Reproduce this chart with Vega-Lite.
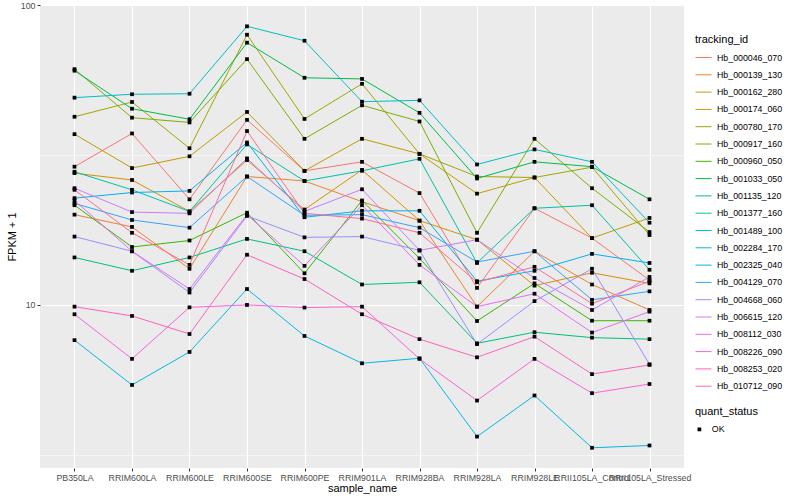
{
  "$schema": "https://vega.github.io/schema/vega-lite/v6.json",
  "width": 644,
  "height": 463,
  "autosize": {"type": "none"},
  "padding": {"left": 40, "top": 5, "right": 116, "bottom": 32},
  "background": "white",
  "config": {
    "view": {"fill": "#EBEBEB", "stroke": null},
    "font": "Liberation Sans",
    "axis": {"domain": false, "labelFont": "Liberation Sans", "titleFont": "Liberation Sans"},
    "legend": {"labelFont": "Liberation Sans", "titleFont": "Liberation Sans"}
  },
  "data": {"values": [
    {"tracking_id":"Hb_000046_070","sample_name":"PB350LA","fpkm":28.9,"quant_status":"OK"},
    {"tracking_id":"Hb_000046_070","sample_name":"RRIM600LA","fpkm":37.3,"quant_status":"OK"},
    {"tracking_id":"Hb_000046_070","sample_name":"RRIM600LE","fpkm":22.5,"quant_status":"OK"},
    {"tracking_id":"Hb_000046_070","sample_name":"RRIM600SE","fpkm":41.4,"quant_status":"OK"},
    {"tracking_id":"Hb_000046_070","sample_name":"RRIM600PE","fpkm":28.0,"quant_status":"OK"},
    {"tracking_id":"Hb_000046_070","sample_name":"RRIM901LA","fpkm":30.0,"quant_status":"OK"},
    {"tracking_id":"Hb_000046_070","sample_name":"RRIM928BA","fpkm":23.6,"quant_status":"OK"},
    {"tracking_id":"Hb_000046_070","sample_name":"RRIM928LA","fpkm":11.4,"quant_status":"OK"},
    {"tracking_id":"Hb_000046_070","sample_name":"RRIM928LE","fpkm":21.0,"quant_status":"OK"},
    {"tracking_id":"Hb_000046_070","sample_name":"RRII105LA_Control","fpkm":16.7,"quant_status":"OK"},
    {"tracking_id":"Hb_000046_070","sample_name":"RRII105LA_Stressed","fpkm":12.1,"quant_status":"OK"},
    {"tracking_id":"Hb_000139_130","sample_name":"PB350LA","fpkm":20.0,"quant_status":"OK"},
    {"tracking_id":"Hb_000139_130","sample_name":"RRIM600LA","fpkm":18.2,"quant_status":"OK"},
    {"tracking_id":"Hb_000139_130","sample_name":"RRIM600LE","fpkm":13.2,"quant_status":"OK"},
    {"tracking_id":"Hb_000139_130","sample_name":"RRIM600SE","fpkm":26.8,"quant_status":"OK"},
    {"tracking_id":"Hb_000139_130","sample_name":"RRIM600PE","fpkm":25.9,"quant_status":"OK"},
    {"tracking_id":"Hb_000139_130","sample_name":"RRIM901LA","fpkm":22.1,"quant_status":"OK"},
    {"tracking_id":"Hb_000139_130","sample_name":"RRIM928BA","fpkm":19.1,"quant_status":"OK"},
    {"tracking_id":"Hb_000139_130","sample_name":"RRIM928LA","fpkm":9.87,"quant_status":"OK"},
    {"tracking_id":"Hb_000139_130","sample_name":"RRIM928LE","fpkm":15.1,"quant_status":"OK"},
    {"tracking_id":"Hb_000139_130","sample_name":"RRII105LA_Control","fpkm":11.7,"quant_status":"OK"},
    {"tracking_id":"Hb_000139_130","sample_name":"RRII105LA_Stressed","fpkm":9.62,"quant_status":"OK"},
    {"tracking_id":"Hb_000162_280","sample_name":"PB350LA","fpkm":27.5,"quant_status":"OK"},
    {"tracking_id":"Hb_000162_280","sample_name":"RRIM600LA","fpkm":26.1,"quant_status":"OK"},
    {"tracking_id":"Hb_000162_280","sample_name":"RRIM600LE","fpkm":20.5,"quant_status":"OK"},
    {"tracking_id":"Hb_000162_280","sample_name":"RRIM600SE","fpkm":30.4,"quant_status":"OK"},
    {"tracking_id":"Hb_000162_280","sample_name":"RRIM600PE","fpkm":20.8,"quant_status":"OK"},
    {"tracking_id":"Hb_000162_280","sample_name":"RRIM901LA","fpkm":28.2,"quant_status":"OK"},
    {"tracking_id":"Hb_000162_280","sample_name":"RRIM928BA","fpkm":19.1,"quant_status":"OK"},
    {"tracking_id":"Hb_000162_280","sample_name":"RRIM928LA","fpkm":16.5,"quant_status":"OK"},
    {"tracking_id":"Hb_000162_280","sample_name":"RRIM928LE","fpkm":11.6,"quant_status":"OK"},
    {"tracking_id":"Hb_000162_280","sample_name":"RRII105LA_Control","fpkm":12.8,"quant_status":"OK"},
    {"tracking_id":"Hb_000162_280","sample_name":"RRII105LA_Stressed","fpkm":11.8,"quant_status":"OK"},
    {"tracking_id":"Hb_000174_060","sample_name":"PB350LA","fpkm":37.1,"quant_status":"OK"},
    {"tracking_id":"Hb_000174_060","sample_name":"RRIM600LA","fpkm":28.6,"quant_status":"OK"},
    {"tracking_id":"Hb_000174_060","sample_name":"RRIM600LE","fpkm":31.3,"quant_status":"OK"},
    {"tracking_id":"Hb_000174_060","sample_name":"RRIM600SE","fpkm":44.0,"quant_status":"OK"},
    {"tracking_id":"Hb_000174_060","sample_name":"RRIM600PE","fpkm":28.0,"quant_status":"OK"},
    {"tracking_id":"Hb_000174_060","sample_name":"RRIM901LA","fpkm":35.8,"quant_status":"OK"},
    {"tracking_id":"Hb_000174_060","sample_name":"RRIM928BA","fpkm":31.9,"quant_status":"OK"},
    {"tracking_id":"Hb_000174_060","sample_name":"RRIM928LA","fpkm":23.5,"quant_status":"OK"},
    {"tracking_id":"Hb_000174_060","sample_name":"RRIM928LE","fpkm":26.6,"quant_status":"OK"},
    {"tracking_id":"Hb_000174_060","sample_name":"RRII105LA_Control","fpkm":16.7,"quant_status":"OK"},
    {"tracking_id":"Hb_000174_060","sample_name":"RRII105LA_Stressed","fpkm":19.5,"quant_status":"OK"},
    {"tracking_id":"Hb_000780_170","sample_name":"PB350LA","fpkm":42.4,"quant_status":"OK"},
    {"tracking_id":"Hb_000780_170","sample_name":"RRIM600LA","fpkm":47.5,"quant_status":"OK"},
    {"tracking_id":"Hb_000780_170","sample_name":"RRIM600LE","fpkm":33.3,"quant_status":"OK"},
    {"tracking_id":"Hb_000780_170","sample_name":"RRIM600SE","fpkm":79.6,"quant_status":"OK"},
    {"tracking_id":"Hb_000780_170","sample_name":"RRIM600PE","fpkm":41.7,"quant_status":"OK"},
    {"tracking_id":"Hb_000780_170","sample_name":"RRIM901LA","fpkm":54.6,"quant_status":"OK"},
    {"tracking_id":"Hb_000780_170","sample_name":"RRIM928BA","fpkm":31.9,"quant_status":"OK"},
    {"tracking_id":"Hb_000780_170","sample_name":"RRIM928LA","fpkm":26.8,"quant_status":"OK"},
    {"tracking_id":"Hb_000780_170","sample_name":"RRIM928LE","fpkm":26.6,"quant_status":"OK"},
    {"tracking_id":"Hb_000780_170","sample_name":"RRII105LA_Control","fpkm":28.8,"quant_status":"OK"},
    {"tracking_id":"Hb_000780_170","sample_name":"RRII105LA_Stressed","fpkm":17.1,"quant_status":"OK"},
    {"tracking_id":"Hb_000917_160","sample_name":"PB350LA","fpkm":61.1,"quant_status":"OK"},
    {"tracking_id":"Hb_000917_160","sample_name":"RRIM600LA","fpkm":42.1,"quant_status":"OK"},
    {"tracking_id":"Hb_000917_160","sample_name":"RRIM600LE","fpkm":40.6,"quant_status":"OK"},
    {"tracking_id":"Hb_000917_160","sample_name":"RRIM600SE","fpkm":66.0,"quant_status":"OK"},
    {"tracking_id":"Hb_000917_160","sample_name":"RRIM600PE","fpkm":35.8,"quant_status":"OK"},
    {"tracking_id":"Hb_000917_160","sample_name":"RRIM901LA","fpkm":46.3,"quant_status":"OK"},
    {"tracking_id":"Hb_000917_160","sample_name":"RRIM928BA","fpkm":40.9,"quant_status":"OK"},
    {"tracking_id":"Hb_000917_160","sample_name":"RRIM928LA","fpkm":17.4,"quant_status":"OK"},
    {"tracking_id":"Hb_000917_160","sample_name":"RRIM928LE","fpkm":35.8,"quant_status":"OK"},
    {"tracking_id":"Hb_000917_160","sample_name":"RRII105LA_Control","fpkm":24.5,"quant_status":"OK"},
    {"tracking_id":"Hb_000917_160","sample_name":"RRII105LA_Stressed","fpkm":17.5,"quant_status":"OK"},
    {"tracking_id":"Hb_000960_050","sample_name":"PB350LA","fpkm":21.5,"quant_status":"OK"},
    {"tracking_id":"Hb_000960_050","sample_name":"RRIM600LA","fpkm":15.6,"quant_status":"OK"},
    {"tracking_id":"Hb_000960_050","sample_name":"RRIM600LE","fpkm":16.4,"quant_status":"OK"},
    {"tracking_id":"Hb_000960_050","sample_name":"RRIM600SE","fpkm":20.3,"quant_status":"OK"},
    {"tracking_id":"Hb_000960_050","sample_name":"RRIM600PE","fpkm":12.75,"quant_status":"OK"},
    {"tracking_id":"Hb_000960_050","sample_name":"RRIM901LA","fpkm":22.3,"quant_status":"OK"},
    {"tracking_id":"Hb_000960_050","sample_name":"RRIM928BA","fpkm":14.3,"quant_status":"OK"},
    {"tracking_id":"Hb_000960_050","sample_name":"RRIM928LA","fpkm":8.84,"quant_status":"OK"},
    {"tracking_id":"Hb_000960_050","sample_name":"RRIM928LE","fpkm":11.8,"quant_status":"OK"},
    {"tracking_id":"Hb_000960_050","sample_name":"RRII105LA_Control","fpkm":8.86,"quant_status":"OK"},
    {"tracking_id":"Hb_000960_050","sample_name":"RRII105LA_Stressed","fpkm":8.86,"quant_status":"OK"},
    {"tracking_id":"Hb_001033_050","sample_name":"PB350LA","fpkm":60.4,"quant_status":"OK"},
    {"tracking_id":"Hb_001033_050","sample_name":"RRIM600LA","fpkm":45.1,"quant_status":"OK"},
    {"tracking_id":"Hb_001033_050","sample_name":"RRIM600LE","fpkm":41.6,"quant_status":"OK"},
    {"tracking_id":"Hb_001033_050","sample_name":"RRIM600SE","fpkm":74.9,"quant_status":"OK"},
    {"tracking_id":"Hb_001033_050","sample_name":"RRIM600PE","fpkm":57.2,"quant_status":"OK"},
    {"tracking_id":"Hb_001033_050","sample_name":"RRIM901LA","fpkm":56.7,"quant_status":"OK"},
    {"tracking_id":"Hb_001033_050","sample_name":"RRIM928BA","fpkm":43.7,"quant_status":"OK"},
    {"tracking_id":"Hb_001033_050","sample_name":"RRIM928LA","fpkm":26.4,"quant_status":"OK"},
    {"tracking_id":"Hb_001033_050","sample_name":"RRIM928LE","fpkm":30.0,"quant_status":"OK"},
    {"tracking_id":"Hb_001033_050","sample_name":"RRII105LA_Control","fpkm":28.9,"quant_status":"OK"},
    {"tracking_id":"Hb_001033_050","sample_name":"RRII105LA_Stressed","fpkm":22.5,"quant_status":"OK"},
    {"tracking_id":"Hb_001135_120","sample_name":"PB350LA","fpkm":14.4,"quant_status":"OK"},
    {"tracking_id":"Hb_001135_120","sample_name":"RRIM600LA","fpkm":13.0,"quant_status":"OK"},
    {"tracking_id":"Hb_001135_120","sample_name":"RRIM600LE","fpkm":14.4,"quant_status":"OK"},
    {"tracking_id":"Hb_001135_120","sample_name":"RRIM600SE","fpkm":16.6,"quant_status":"OK"},
    {"tracking_id":"Hb_001135_120","sample_name":"RRIM600PE","fpkm":15.1,"quant_status":"OK"},
    {"tracking_id":"Hb_001135_120","sample_name":"RRIM901LA","fpkm":11.7,"quant_status":"OK"},
    {"tracking_id":"Hb_001135_120","sample_name":"RRIM928BA","fpkm":11.9,"quant_status":"OK"},
    {"tracking_id":"Hb_001135_120","sample_name":"RRIM928LA","fpkm":7.45,"quant_status":"OK"},
    {"tracking_id":"Hb_001135_120","sample_name":"RRIM928LE","fpkm":8.11,"quant_status":"OK"},
    {"tracking_id":"Hb_001135_120","sample_name":"RRII105LA_Control","fpkm":7.78,"quant_status":"OK"},
    {"tracking_id":"Hb_001135_120","sample_name":"RRII105LA_Stressed","fpkm":7.69,"quant_status":"OK"},
    {"tracking_id":"Hb_001377_160","sample_name":"PB350LA","fpkm":27.8,"quant_status":"OK"},
    {"tracking_id":"Hb_001377_160","sample_name":"RRIM600LA","fpkm":24.2,"quant_status":"OK"},
    {"tracking_id":"Hb_001377_160","sample_name":"RRIM600LE","fpkm":20.5,"quant_status":"OK"},
    {"tracking_id":"Hb_001377_160","sample_name":"RRIM600SE","fpkm":34.3,"quant_status":"OK"},
    {"tracking_id":"Hb_001377_160","sample_name":"RRIM600PE","fpkm":25.9,"quant_status":"OK"},
    {"tracking_id":"Hb_001377_160","sample_name":"RRIM901LA","fpkm":28.0,"quant_status":"OK"},
    {"tracking_id":"Hb_001377_160","sample_name":"RRIM928BA","fpkm":30.7,"quant_status":"OK"},
    {"tracking_id":"Hb_001377_160","sample_name":"RRIM928LA","fpkm":13.8,"quant_status":"OK"},
    {"tracking_id":"Hb_001377_160","sample_name":"RRIM928LE","fpkm":21.0,"quant_status":"OK"},
    {"tracking_id":"Hb_001377_160","sample_name":"RRII105LA_Control","fpkm":21.5,"quant_status":"OK"},
    {"tracking_id":"Hb_001377_160","sample_name":"RRII105LA_Stressed","fpkm":13.1,"quant_status":"OK"},
    {"tracking_id":"Hb_001489_100","sample_name":"PB350LA","fpkm":49.1,"quant_status":"OK"},
    {"tracking_id":"Hb_001489_100","sample_name":"RRIM600LA","fpkm":50.4,"quant_status":"OK"},
    {"tracking_id":"Hb_001489_100","sample_name":"RRIM600LE","fpkm":50.6,"quant_status":"OK"},
    {"tracking_id":"Hb_001489_100","sample_name":"RRIM600SE","fpkm":84.9,"quant_status":"OK"},
    {"tracking_id":"Hb_001489_100","sample_name":"RRIM600PE","fpkm":76.0,"quant_status":"OK"},
    {"tracking_id":"Hb_001489_100","sample_name":"RRIM901LA","fpkm":47.6,"quant_status":"OK"},
    {"tracking_id":"Hb_001489_100","sample_name":"RRIM928BA","fpkm":48.1,"quant_status":"OK"},
    {"tracking_id":"Hb_001489_100","sample_name":"RRIM928LA","fpkm":29.4,"quant_status":"OK"},
    {"tracking_id":"Hb_001489_100","sample_name":"RRIM928LE","fpkm":33.0,"quant_status":"OK"},
    {"tracking_id":"Hb_001489_100","sample_name":"RRII105LA_Control","fpkm":30.0,"quant_status":"OK"},
    {"tracking_id":"Hb_001489_100","sample_name":"RRII105LA_Stressed","fpkm":18.8,"quant_status":"OK"},
    {"tracking_id":"Hb_002284_170","sample_name":"PB350LA","fpkm":7.63,"quant_status":"OK"},
    {"tracking_id":"Hb_002284_170","sample_name":"RRIM600LA","fpkm":5.41,"quant_status":"OK"},
    {"tracking_id":"Hb_002284_170","sample_name":"RRIM600LE","fpkm":6.97,"quant_status":"OK"},
    {"tracking_id":"Hb_002284_170","sample_name":"RRIM600SE","fpkm":11.3,"quant_status":"OK"},
    {"tracking_id":"Hb_002284_170","sample_name":"RRIM600PE","fpkm":7.88,"quant_status":"OK"},
    {"tracking_id":"Hb_002284_170","sample_name":"RRIM901LA","fpkm":6.39,"quant_status":"OK"},
    {"tracking_id":"Hb_002284_170","sample_name":"RRIM928BA","fpkm":6.64,"quant_status":"OK"},
    {"tracking_id":"Hb_002284_170","sample_name":"RRIM928LA","fpkm":3.64,"quant_status":"OK"},
    {"tracking_id":"Hb_002284_170","sample_name":"RRIM928LE","fpkm":4.99,"quant_status":"OK"},
    {"tracking_id":"Hb_002284_170","sample_name":"RRII105LA_Control","fpkm":3.34,"quant_status":"OK"},
    {"tracking_id":"Hb_002284_170","sample_name":"RRII105LA_Stressed","fpkm":3.40,"quant_status":"OK"},
    {"tracking_id":"Hb_002325_040","sample_name":"PB350LA","fpkm":22.7,"quant_status":"OK"},
    {"tracking_id":"Hb_002325_040","sample_name":"RRIM600LA","fpkm":23.7,"quant_status":"OK"},
    {"tracking_id":"Hb_002325_040","sample_name":"RRIM600LE","fpkm":24.0,"quant_status":"OK"},
    {"tracking_id":"Hb_002325_040","sample_name":"RRIM600SE","fpkm":34.8,"quant_status":"OK"},
    {"tracking_id":"Hb_002325_040","sample_name":"RRIM600PE","fpkm":19.6,"quant_status":"OK"},
    {"tracking_id":"Hb_002325_040","sample_name":"RRIM901LA","fpkm":20.6,"quant_status":"OK"},
    {"tracking_id":"Hb_002325_040","sample_name":"RRIM928BA","fpkm":20.6,"quant_status":"OK"},
    {"tracking_id":"Hb_002325_040","sample_name":"RRIM928LA","fpkm":12.0,"quant_status":"OK"},
    {"tracking_id":"Hb_002325_040","sample_name":"RRIM928LE","fpkm":13.0,"quant_status":"OK"},
    {"tracking_id":"Hb_002325_040","sample_name":"RRII105LA_Control","fpkm":14.8,"quant_status":"OK"},
    {"tracking_id":"Hb_002325_040","sample_name":"RRII105LA_Stressed","fpkm":13.8,"quant_status":"OK"},
    {"tracking_id":"Hb_004129_070","sample_name":"PB350LA","fpkm":21.8,"quant_status":"OK"},
    {"tracking_id":"Hb_004129_070","sample_name":"RRIM600LA","fpkm":19.2,"quant_status":"OK"},
    {"tracking_id":"Hb_004129_070","sample_name":"RRIM600LE","fpkm":18.1,"quant_status":"OK"},
    {"tracking_id":"Hb_004129_070","sample_name":"RRIM600SE","fpkm":26.8,"quant_status":"OK"},
    {"tracking_id":"Hb_004129_070","sample_name":"RRIM600PE","fpkm":19.9,"quant_status":"OK"},
    {"tracking_id":"Hb_004129_070","sample_name":"RRIM901LA","fpkm":20.0,"quant_status":"OK"},
    {"tracking_id":"Hb_004129_070","sample_name":"RRIM928BA","fpkm":18.1,"quant_status":"OK"},
    {"tracking_id":"Hb_004129_070","sample_name":"RRIM928LA","fpkm":13.9,"quant_status":"OK"},
    {"tracking_id":"Hb_004129_070","sample_name":"RRIM928LE","fpkm":15.1,"quant_status":"OK"},
    {"tracking_id":"Hb_004129_070","sample_name":"RRII105LA_Control","fpkm":10.4,"quant_status":"OK"},
    {"tracking_id":"Hb_004129_070","sample_name":"RRII105LA_Stressed","fpkm":11.1,"quant_status":"OK"},
    {"tracking_id":"Hb_004668_060","sample_name":"PB350LA","fpkm":16.9,"quant_status":"OK"},
    {"tracking_id":"Hb_004668_060","sample_name":"RRIM600LA","fpkm":15.1,"quant_status":"OK"},
    {"tracking_id":"Hb_004668_060","sample_name":"RRIM600LE","fpkm":11.0,"quant_status":"OK"},
    {"tracking_id":"Hb_004668_060","sample_name":"RRIM600SE","fpkm":19.8,"quant_status":"OK"},
    {"tracking_id":"Hb_004668_060","sample_name":"RRIM600PE","fpkm":16.8,"quant_status":"OK"},
    {"tracking_id":"Hb_004668_060","sample_name":"RRIM901LA","fpkm":16.9,"quant_status":"OK"},
    {"tracking_id":"Hb_004668_060","sample_name":"RRIM928BA","fpkm":15.2,"quant_status":"OK"},
    {"tracking_id":"Hb_004668_060","sample_name":"RRIM928LA","fpkm":7.4,"quant_status":"OK"},
    {"tracking_id":"Hb_004668_060","sample_name":"RRIM928LE","fpkm":10.3,"quant_status":"OK"},
    {"tracking_id":"Hb_004668_060","sample_name":"RRII105LA_Control","fpkm":13.2,"quant_status":"OK"},
    {"tracking_id":"Hb_004668_060","sample_name":"RRII105LA_Stressed","fpkm":6.34,"quant_status":"OK"},
    {"tracking_id":"Hb_006615_120","sample_name":"PB350LA","fpkm":24.5,"quant_status":"OK"},
    {"tracking_id":"Hb_006615_120","sample_name":"RRIM600LA","fpkm":20.4,"quant_status":"OK"},
    {"tracking_id":"Hb_006615_120","sample_name":"RRIM600LE","fpkm":20.2,"quant_status":"OK"},
    {"tracking_id":"Hb_006615_120","sample_name":"RRIM600SE","fpkm":30.8,"quant_status":"OK"},
    {"tracking_id":"Hb_006615_120","sample_name":"RRIM600PE","fpkm":20.5,"quant_status":"OK"},
    {"tracking_id":"Hb_006615_120","sample_name":"RRIM901LA","fpkm":24.3,"quant_status":"OK"},
    {"tracking_id":"Hb_006615_120","sample_name":"RRIM928BA","fpkm":15.2,"quant_status":"OK"},
    {"tracking_id":"Hb_006615_120","sample_name":"RRIM928LA","fpkm":16.5,"quant_status":"OK"},
    {"tracking_id":"Hb_006615_120","sample_name":"RRIM928LE","fpkm":12.3,"quant_status":"OK"},
    {"tracking_id":"Hb_006615_120","sample_name":"RRII105LA_Control","fpkm":9.62,"quant_status":"OK"},
    {"tracking_id":"Hb_006615_120","sample_name":"RRII105LA_Stressed","fpkm":12.4,"quant_status":"OK"},
    {"tracking_id":"Hb_008112_030","sample_name":"PB350LA","fpkm":22.3,"quant_status":"OK"},
    {"tracking_id":"Hb_008112_030","sample_name":"RRIM600LA","fpkm":15.1,"quant_status":"OK"},
    {"tracking_id":"Hb_008112_030","sample_name":"RRIM600LE","fpkm":11.3,"quant_status":"OK"},
    {"tracking_id":"Hb_008112_030","sample_name":"RRIM600SE","fpkm":20.0,"quant_status":"OK"},
    {"tracking_id":"Hb_008112_030","sample_name":"RRIM600PE","fpkm":13.5,"quant_status":"OK"},
    {"tracking_id":"Hb_008112_030","sample_name":"RRIM901LA","fpkm":21.5,"quant_status":"OK"},
    {"tracking_id":"Hb_008112_030","sample_name":"RRIM928BA","fpkm":13.6,"quant_status":"OK"},
    {"tracking_id":"Hb_008112_030","sample_name":"RRIM928LA","fpkm":9.87,"quant_status":"OK"},
    {"tracking_id":"Hb_008112_030","sample_name":"RRIM928LE","fpkm":10.9,"quant_status":"OK"},
    {"tracking_id":"Hb_008112_030","sample_name":"RRII105LA_Control","fpkm":8.09,"quant_status":"OK"},
    {"tracking_id":"Hb_008112_030","sample_name":"RRII105LA_Stressed","fpkm":9.5,"quant_status":"OK"},
    {"tracking_id":"Hb_008226_090","sample_name":"PB350LA","fpkm":9.31,"quant_status":"OK"},
    {"tracking_id":"Hb_008226_090","sample_name":"RRIM600LA","fpkm":6.61,"quant_status":"OK"},
    {"tracking_id":"Hb_008226_090","sample_name":"RRIM600LE","fpkm":9.82,"quant_status":"OK"},
    {"tracking_id":"Hb_008226_090","sample_name":"RRIM600SE","fpkm":10.0,"quant_status":"OK"},
    {"tracking_id":"Hb_008226_090","sample_name":"RRIM600PE","fpkm":9.8,"quant_status":"OK"},
    {"tracking_id":"Hb_008226_090","sample_name":"RRIM901LA","fpkm":9.87,"quant_status":"OK"},
    {"tracking_id":"Hb_008226_090","sample_name":"RRIM928BA","fpkm":6.61,"quant_status":"OK"},
    {"tracking_id":"Hb_008226_090","sample_name":"RRIM928LA","fpkm":4.80,"quant_status":"OK"},
    {"tracking_id":"Hb_008226_090","sample_name":"RRIM928LE","fpkm":6.61,"quant_status":"OK"},
    {"tracking_id":"Hb_008226_090","sample_name":"RRII105LA_Control","fpkm":5.08,"quant_status":"OK"},
    {"tracking_id":"Hb_008226_090","sample_name":"RRII105LA_Stressed","fpkm":5.45,"quant_status":"OK"},
    {"tracking_id":"Hb_008253_020","sample_name":"PB350LA","fpkm":9.87,"quant_status":"OK"},
    {"tracking_id":"Hb_008253_020","sample_name":"RRIM600LA","fpkm":9.19,"quant_status":"OK"},
    {"tracking_id":"Hb_008253_020","sample_name":"RRIM600LE","fpkm":8.0,"quant_status":"OK"},
    {"tracking_id":"Hb_008253_020","sample_name":"RRIM600SE","fpkm":14.7,"quant_status":"OK"},
    {"tracking_id":"Hb_008253_020","sample_name":"RRIM600PE","fpkm":12.2,"quant_status":"OK"},
    {"tracking_id":"Hb_008253_020","sample_name":"RRIM901LA","fpkm":9.31,"quant_status":"OK"},
    {"tracking_id":"Hb_008253_020","sample_name":"RRIM928BA","fpkm":7.69,"quant_status":"OK"},
    {"tracking_id":"Hb_008253_020","sample_name":"RRIM928LA","fpkm":6.69,"quant_status":"OK"},
    {"tracking_id":"Hb_008253_020","sample_name":"RRIM928LE","fpkm":7.84,"quant_status":"OK"},
    {"tracking_id":"Hb_008253_020","sample_name":"RRII105LA_Control","fpkm":5.88,"quant_status":"OK"},
    {"tracking_id":"Hb_008253_020","sample_name":"RRII105LA_Stressed","fpkm":6.31,"quant_status":"OK"},
    {"tracking_id":"Hb_010712_090","sample_name":"PB350LA","fpkm":24.2,"quant_status":"OK"},
    {"tracking_id":"Hb_010712_090","sample_name":"RRIM600LA","fpkm":17.4,"quant_status":"OK"},
    {"tracking_id":"Hb_010712_090","sample_name":"RRIM600LE","fpkm":13.6,"quant_status":"OK"},
    {"tracking_id":"Hb_010712_090","sample_name":"RRIM600SE","fpkm":38.0,"quant_status":"OK"},
    {"tracking_id":"Hb_010712_090","sample_name":"RRIM600PE","fpkm":20.2,"quant_status":"OK"},
    {"tracking_id":"Hb_010712_090","sample_name":"RRIM901LA","fpkm":19.4,"quant_status":"OK"},
    {"tracking_id":"Hb_010712_090","sample_name":"RRIM928BA","fpkm":17.4,"quant_status":"OK"},
    {"tracking_id":"Hb_010712_090","sample_name":"RRIM928LA","fpkm":11.9,"quant_status":"OK"},
    {"tracking_id":"Hb_010712_090","sample_name":"RRIM928LE","fpkm":13.4,"quant_status":"OK"},
    {"tracking_id":"Hb_010712_090","sample_name":"RRII105LA_Control","fpkm":10.1,"quant_status":"OK"},
    {"tracking_id":"Hb_010712_090","sample_name":"RRII105LA_Stressed","fpkm":12.0,"quant_status":"OK"}
  ]},
  "encoding": {
    "x": {
      "field": "sample_name", "type": "nominal",
      "sort": ["PB350LA","RRIM600LA","RRIM600LE","RRIM600SE","RRIM600PE","RRIM901LA","RRIM928BA","RRIM928LA","RRIM928LE","RRII105LA_Control","RRII105LA_Stressed"],
      "scale": {"type": "point", "padding": 0.6},
      "axis": {
        "title": "sample_name", "labelAngle": 0, "labelOverlap": false, "labelBound": false, "labelFlush": false,
        "labelFontSize": 8.8, "labelColor": "#4D4D4D", "labelPadding": 2,
        "tickColor": "#333333", "tickSize": 3, "tickWidth": 1,
        "grid": true, "gridColor": "#FFFFFF", "gridWidth": 1.1,
        "titleFontSize": 11, "titleFontWeight": "normal", "titleColor": "#000000", "titlePadding": 1
      }
    },
    "y": {
      "field": "fpkm", "type": "quantitative",
      "scale": {"type": "log", "domain": [2.86, 100], "nice": false, "zero": false},
      "axis": {
        "title": "FPKM + 1", "values": [3.1623, 10, 31.623, 100],
        "labelExpr": "datum.value == 10 || datum.value == 100 ? datum.label : ''",
        "labelFontSize": 8.8, "labelColor": "#4D4D4D", "labelPadding": 2,
        "tickColor": "#333333", "tickSize": 3,
        "tickOpacity": {"condition": {"test": "datum.value == 10 || datum.value == 100", "value": 1}, "value": 0},
        "grid": true, "gridColor": "#FFFFFF",
        "gridWidth": {"condition": {"test": "datum.value == 10 || datum.value == 100", "value": 1.1}, "value": 0.5},
        "titleFontSize": 11, "titleFontWeight": "normal", "titleColor": "#000000", "titlePadding": 3
      }
    }
  },
  "layer": [
    {
      "mark": {"type": "line", "strokeWidth": 1},
      "encoding": {
        "color": {
          "field": "tracking_id", "type": "nominal",
          "scale": {
            "domain": ["Hb_000046_070","Hb_000139_130","Hb_000162_280","Hb_000174_060","Hb_000780_170","Hb_000917_160","Hb_000960_050","Hb_001033_050","Hb_001135_120","Hb_001377_160","Hb_001489_100","Hb_002284_170","Hb_002325_040","Hb_004129_070","Hb_004668_060","Hb_006615_120","Hb_008112_030","Hb_008226_090","Hb_008253_020","Hb_010712_090"],
            "range": ["#F8766D","#EA8331","#D89000","#C09B00","#A3A500","#7CAE00","#39B600","#00BB4E","#00BF7D","#00C1A3","#00BFC4","#00BAE0","#00B0F6","#35A2FF","#9590FF","#C77CFF","#E76BF3","#FA62DB","#FF62BC","#FF6C91"]
          },
          "legend": {
            "title": "tracking_id", "orient": "none", "legendX": 655, "legendY": 29,
            "symbolType": "stroke", "symbolSize": 256, "symbolStrokeWidth": 1,
            "labelFontSize": 8.8, "labelColor": "#000000", "labelOffset": 5,
            "titleFontSize": 11, "titleFontWeight": "normal", "titleColor": "#000000", "titlePadding": 4,
            "rowPadding": 3.3, "padding": 0
          }
        }
      }
    },
    {
      "mark": {"type": "point", "filled": true, "color": "#000000", "size": 14, "opacity": 1},
      "encoding": {
        "shape": {
          "field": "quant_status", "type": "nominal",
          "scale": {"domain": ["OK"], "range": ["square"]},
          "legend": {
            "title": "quant_status", "orient": "none", "legendX": 655, "legendY": 401,
            "symbolSize": 14, "symbolFillColor": "#000000", "symbolStrokeColor": "#000000",
            "labelFontSize": 8.8, "labelColor": "#000000", "labelOffset": 8,
            "titleFontSize": 11, "titleFontWeight": "normal", "titleColor": "#000000", "titlePadding": 8,
            "padding": 0
          }
        }
      }
    }
  ]
}
